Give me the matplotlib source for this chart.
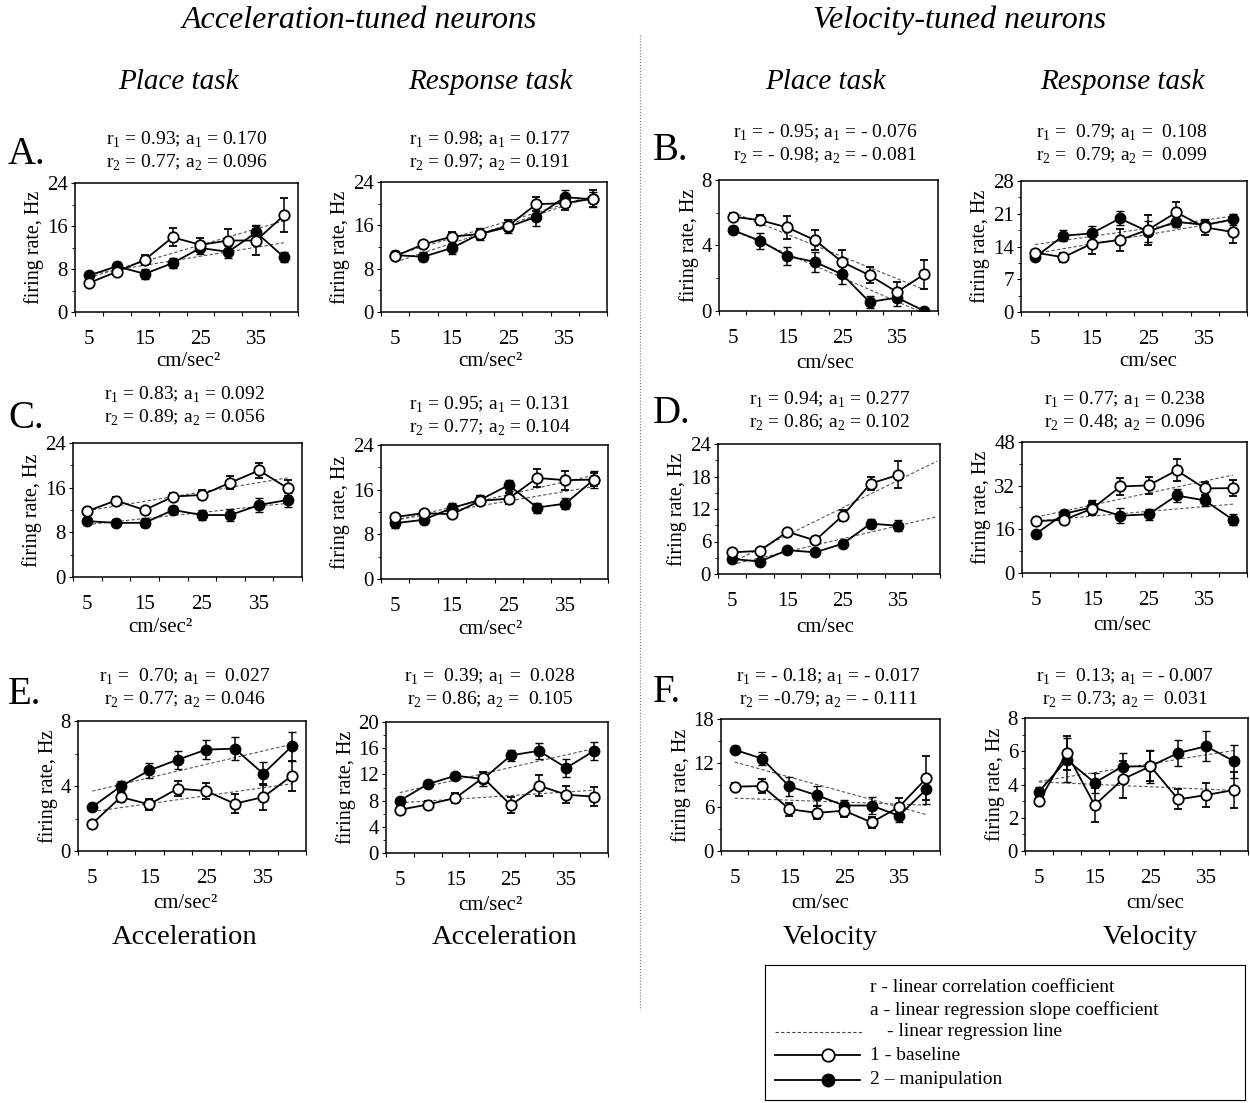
import numpy as np
import matplotlib
matplotlib.use('Agg')
import matplotlib.pyplot as plt
from matplotlib.lines import Line2D

plt.rcParams['font.family'] = ['Liberation Serif', 'DejaVu Serif']
plt.rcParams['mathtext.fontset'] = 'custom'
plt.rcParams['mathtext.rm'] = 'Liberation Serif'

# velocity / acceleration bins
bins = [5, 10, 15, 20, 25, 30, 35, 40]
bin_labels = ['5', '15', '25', '35']

# A - acceleration, place task
a_place_base = [5.4, 7.5, 9.7, 13.9, 12.5, 13.3, 13.3, 18.0]
a_place_base_err = [0.6, 0.8, 0.9, 1.7, 1.3, 2.2, 2.7, 3.2]
a_place_man = [6.8, 8.5, 7.1, 9.1, 11.9, 11.2, 14.8, 10.2]
a_place_man_err = [0.4, 0.8, 0.9, 0.9, 1.1, 1.1, 1.3, 0.9]
# A - acceleration, response task
a_resp_base = [10.3, 12.5, 13.9, 14.4, 15.9, 19.9, 20.1, 20.9]
a_resp_base_err = [0.6, 0.7, 0.8, 0.9, 1.0, 1.3, 1.2, 1.6]
a_resp_man = [10.5, 10.2, 11.8, 14.4, 15.7, 17.6, 21.2, 20.8]
a_resp_man_err = [0.7, 0.8, 1.0, 1.1, 1.2, 1.7, 1.3, 1.4]
# B - velocity, place task
b_place_base = [5.76, 5.55, 5.1, 4.33, 3.0, 2.18, 1.16, 2.24]
b_place_base_err = [0.2, 0.3, 0.7, 0.6, 0.7, 0.5, 0.6, 0.9]
b_place_man = [4.94, 4.29, 3.35, 3.0, 2.24, 0.55, 0.82, 0.0]
b_place_man_err = [0.25, 0.5, 0.55, 0.6, 0.6, 0.35, 0.5, 0.0]
# B - velocity, response task
b_resp_base = [12.7, 11.7, 14.6, 15.4, 17.6, 21.3, 18.1, 17.1]
b_resp_base_err = [0.5, 1.0, 2.3, 2.4, 3.2, 2.2, 1.6, 2.3]
b_resp_man = [11.7, 16.3, 16.8, 20.0, 17.2, 19.3, 18.6, 19.8]
b_resp_man_err = [0.6, 1.2, 1.6, 1.5, 2.2, 1.2, 1.3, 1.2]
# C - acceleration, place task
c_place_base = [11.8, 13.7, 12.0, 14.4, 14.7, 16.9, 19.1, 15.9]
c_place_base_err = [0.5, 0.6, 0.5, 0.6, 0.8, 1.2, 1.4, 1.4]
c_place_man = [10.0, 9.7, 9.7, 12.0, 11.1, 11.1, 12.9, 13.8]
c_place_man_err = [0.5, 0.6, 0.8, 0.7, 0.9, 1.1, 1.3, 1.3]
# C - acceleration, response task
c_resp_base = [11.1, 11.8, 11.6, 14.0, 14.4, 18.1, 17.7, 17.8]
c_resp_base_err = [0.6, 0.5, 0.7, 0.8, 1.0, 1.6, 1.7, 1.2]
c_resp_man = [10.0, 10.6, 12.7, 14.2, 16.8, 12.8, 13.5, 17.8]
c_resp_man_err = [0.8, 0.8, 0.9, 0.8, 1.0, 0.9, 1.0, 1.5]
# D - velocity, place task (no 40 bin)
d_place_base = [4.0, 4.26, 7.8, 6.2, 10.8, 16.7, 18.3]
d_place_base_err = [0.4, 0.4, 0.6, 0.7, 1.1, 1.2, 2.5]
d_place_man = [2.8, 2.3, 4.4, 4.0, 5.6, 9.3, 8.9]
d_place_man_err = [0.4, 0.3, 0.5, 0.5, 0.6, 0.8, 1.0]
# D - velocity, response task
d_resp_base = [19.0, 19.5, 23.6, 31.7, 32.1, 37.6, 31.0, 31.1]
d_resp_base_err = [1.0, 1.5, 2.5, 3.0, 3.0, 4.0, 2.5, 3.0]
d_resp_man = [14.4, 21.7, 24.1, 21.0, 21.5, 28.4, 26.6, 19.5]
d_resp_man_err = [1.0, 1.5, 2.5, 2.8, 2.0, 2.5, 2.0, 2.0]
# E - acceleration, place task
e_place_base = [1.68, 3.32, 2.87, 3.84, 3.69, 2.91, 3.32, 4.62]
e_place_base_err = [0.1, 0.3, 0.35, 0.45, 0.5, 0.6, 0.8, 0.9]
e_place_man = [2.71, 3.98, 4.96, 5.62, 6.24, 6.30, 4.76, 6.44]
e_place_man_err = [0.15, 0.35, 0.45, 0.55, 0.6, 0.7, 0.7, 0.9]
# E - acceleration, response task
e_resp_base = [6.6, 7.4, 8.4, 11.5, 7.3, 10.3, 8.9, 8.6]
e_resp_base_err = [0.4, 0.5, 0.8, 0.8, 1.2, 1.6, 1.3, 1.5]
e_resp_man = [8.0, 10.5, 11.8, 11.3, 14.9, 15.6, 13.0, 15.6]
e_resp_man_err = [0.3, 0.3, 0.4, 1.1, 0.9, 1.2, 1.4, 1.4]
# F - velocity, place task
f_place_base = [8.77, 8.86, 5.7, 5.2, 5.5, 3.9, 6.0, 9.9]
f_place_base_err = [0.5, 0.9, 0.9, 0.9, 0.9, 0.8, 1.2, 3.0]
f_place_man = [13.8, 12.6, 8.8, 7.6, 6.2, 6.2, 4.8, 8.4]
f_place_man_err = [0.5, 0.9, 1.3, 1.3, 0.8, 1.1, 0.8, 2.0]
# F - velocity, response task
f_resp_base = [3.0, 5.89, 2.76, 4.31, 5.1, 3.1, 3.37, 3.67]
f_resp_base_err = [0.25, 1.0, 1.0, 1.1, 0.9, 0.6, 0.7, 1.1]
f_resp_man = [3.57, 5.48, 4.11, 5.08, 5.1, 5.9, 6.3, 5.4]
f_resp_man_err = [0.3, 1.3, 0.6, 0.8, 1.0, 0.8, 0.9, 1.0]

stats = {
    'A1': ('r$_1$ = 0.93; a$_1$ = 0.170', 'r$_2$ = 0.77; a$_2$ = 0.096'),
    'A2': ('r$_1$ = 0.98; a$_1$ = 0.177', 'r$_2$ = 0.97; a$_2$ = 0.191'),
    'B1': ('r$_1$ = - 0.95; a$_1$ = - 0.076', 'r$_2$ = - 0.98; a$_2$ = - 0.081'),
    'B2': ('r$_1$ =  0.79; a$_1$ =  0.108', 'r$_2$ =  0.79; a$_2$ =  0.099'),
    'C1': ('r$_1$ = 0.83; a$_1$ = 0.092', 'r$_2$ = 0.89; a$_2$ = 0.056'),
    'C2': ('r$_1$ = 0.95; a$_1$ = 0.131', 'r$_2$ = 0.77; a$_2$ = 0.104'),
    'D1': ('r$_1$ = 0.94; a$_1$ = 0.277', 'r$_2$ = 0.86; a$_2$ = 0.102'),
    'D2': ('r$_1$ = 0.77; a$_1$ = 0.238', 'r$_2$ = 0.48; a$_2$ = 0.096'),
    'E1': ('r$_1$ =  0.70; a$_1$ =  0.027', 'r$_2$ = 0.77; a$_2$ = 0.046'),
    'E2': ('r$_1$ =  0.39; a$_1$ =  0.028', 'r$_2$ = 0.86; a$_2$ =  0.105'),
    'F1': ('r$_1$ = - 0.18; a$_1$ = - 0.017', 'r$_2$ = -0.79; a$_2$ = - 0.111'),
    'F2': ('r$_1$ =  0.13; a$_1$ = - 0.007', 'r$_2$ = 0.73; a$_2$ =  0.031'),
}

W, H = 1250, 1103
fig = plt.figure(figsize=(W/100, H/100), dpi=100)

def fx(x):
    return x / W

def fy(y):
    return 1 - y / H

def pannello(l, r, t, b, base, base_err, man, man_err, ymax, ystep, key,
             sx, sy, xlab, lx, ly, estendi=False):
    ax = fig.add_axes([fx(l), fy(b), fx(r - l), (b - t) / H])
    n = len(base)
    x = np.arange(n)
    # linee di regressione
    xr = np.array([0, 7.4 if estendi else n - 1])
    for y in (base, man):
        p = np.polyfit(x, y, 1)
        ax.plot(xr, np.polyval(p, xr), color='#555555', lw=0.8, dashes=(3, 2), zorder=1)
    ax.errorbar(x, man, yerr=man_err, fmt='-o', color='black', ms=7.5, lw=1.3,
                elinewidth=1.1, capsize=3, zorder=2)
    ax.errorbar(x, base, yerr=base_err, fmt='-o', color='black', mfc='white',
                mec='black', mew=1.3, ms=7.5, lw=1.3, elinewidth=1.1, capsize=3, zorder=3)
    ax.set_xlim(-0.45, 7.45)
    ax.set_ylim(0, ymax)
    ax.set_xticks(np.arange(-0.5, 8, 1.0))
    ax.set_xticklabels([])
    ax.set_xticks([0, 2, 4, 6], minor=True)
    ax.set_xticklabels(bin_labels, minor=True)
    ax.tick_params(axis='x', which='major', direction='out', length=3)
    ax.tick_params(axis='x', which='minor', length=0, pad=13, labelsize=15)
    ax.set_yticks(np.arange(0, ymax + 0.01, ystep))
    ax.set_yticks(np.arange(ystep / 2, ymax, ystep), minor=True)
    ax.yaxis.set_major_formatter(plt.FuncFormatter(lambda v, p: '%g' % v))
    ax.tick_params(axis='y', which='major', direction='out', length=3, labelsize=15, pad=2)
    ax.tick_params(axis='y', which='minor', direction='out', length=2)
    ax.set_ylabel('firing rate, Hz', fontsize=14.5, labelpad=2)
    for s in ax.spines.values():
        s.set_linewidth(1.1)
    fig.text(fx(sx), fy(sy), stats[key][0], ha='center', va='center', fontsize=14)
    fig.text(fx(sx), fy(sy + 23), stats[key][1], ha='center', va='center', fontsize=14)
    fig.text(fx(lx), fy(ly), xlab, ha='center', va='center', fontsize=15)
    return ax

acc = 'cm/sec\u00b2'
vel = 'cm/sec'

pannello(75, 298, 183, 312, a_place_base, a_place_base_err, a_place_man, a_place_man_err,
         24, 8, 'A1', 187, 140, acc, 188, 362)
pannello(381, 607, 182, 312, a_resp_base, a_resp_base_err, a_resp_man, a_resp_man_err,
         24, 8, 'A2', 490, 140, acc, 490, 362)
pannello(719, 938, 180, 311, b_place_base, b_place_base_err, b_place_man, b_place_man_err,
         8, 4, 'B1', 825, 133, vel, 825, 363)
pannello(1021, 1247, 181, 312, b_resp_base, b_resp_base_err, b_resp_man, b_resp_man_err,
         28, 7, 'B2', 1122, 133, vel, 1148, 362)
pannello(73, 302, 443, 577, c_place_base, c_place_base_err, c_place_man, c_place_man_err,
         24, 8, 'C1', 185, 395, acc, 160, 628)
pannello(381, 608, 445, 579, c_resp_base, c_resp_base_err, c_resp_man, c_resp_man_err,
         24, 8, 'C2', 490, 405, acc, 490, 630)
pannello(718, 940, 444, 574, d_place_base, d_place_base_err, d_place_man, d_place_man_err,
         24, 6, 'D1', 830, 400, vel, 825, 628, estendi=True)
pannello(1022, 1247, 442, 573, d_resp_base, d_resp_base_err, d_resp_man, d_resp_man_err,
         48, 16, 'D2', 1125, 400, vel, 1122, 626)
pannello(78, 306, 721, 851, e_place_base, e_place_base_err, e_place_man, e_place_man_err,
         8, 4, 'E1', 185, 677, acc, 185, 904)
pannello(386, 608, 722, 853, e_resp_base, e_resp_base_err, e_resp_man, e_resp_man_err,
         20, 4, 'E2', 490, 677, acc, 490, 905)
pannello(721, 940, 719, 851, f_place_base, f_place_base_err, f_place_man, f_place_man_err,
         18, 6, 'F1', 828, 677, vel, 820, 904)
pannello(1025, 1248, 718, 851, f_resp_base, f_resp_base_err, f_resp_man, f_resp_man_err,
         8, 2, 'F2', 1125, 677, vel, 1155, 904)

# titoli
fig.text(fx(360), fy(20), 'Acceleration-tuned neurons', ha='center', va='center',
         fontsize=23, style='italic')
fig.text(fx(960), fy(20), 'Velocity-tuned neurons', ha='center', va='center',
         fontsize=23, style='italic')
for x, t in [(178, 'Place task'), (490, 'Response task'), (825, 'Place task'), (1122, 'Response task')]:
    fig.text(fx(x), fy(82), t, ha='center', va='center', fontsize=21, style='italic')
for x, y, t in [(8, 155, 'A.'), (653, 150, 'B.'), (8, 418, 'C.'), (653, 413, 'D.'),
                (8, 695, 'E.'), (653, 692, 'F.')]:
    fig.text(fx(x), fy(y), t, ha='left', va='center', fontsize=28)
for x, t in [(185, 'Acceleration'), (505, 'Acceleration'), (830, 'Velocity'), (1150, 'Velocity')]:
    fig.text(fx(x), fy(937), t, ha='center', va='center', fontsize=20.5)

# linea di separazione
fig.add_artist(Line2D([fx(640), fx(640)], [fy(35), fy(1010)], color='#777777',
                      lw=0.8, linestyle=':'))

# legenda
lg = fig.add_axes([fx(765), fy(1100), fx(480), 135 / H])
lg.set_xlim(0, 480)
lg.set_ylim(135, 0)
lg.set_xticks([])
lg.set_yticks([])
fs = 14
lg.text(105, 22, 'r - linear correlation coefficient', va='center', fontsize=fs)
lg.text(105, 45, 'a - linear regression slope coefficient', va='center', fontsize=fs)
lg.plot([10, 98], [67, 67], color='#444444', lw=0.8, dashes=(3, 2))
lg.text(122, 67, '- linear regression line', va='center', fontsize=fs)
lg.plot([10, 95], [90, 90], color='black', lw=1.3)
lg.plot([63], [90], 'o', color='black', mfc='white', ms=9, mew=1.3)
lg.text(105, 90, '1 - baseline', va='center', fontsize=fs)
lg.plot([10, 95], [115, 115], color='black', lw=1.3)
lg.plot([63], [115], 'o', color='black', ms=9)
lg.text(105, 115, '2 \u2013 manipulation', va='center', fontsize=fs)

fig.savefig('out.png', dpi=100)
